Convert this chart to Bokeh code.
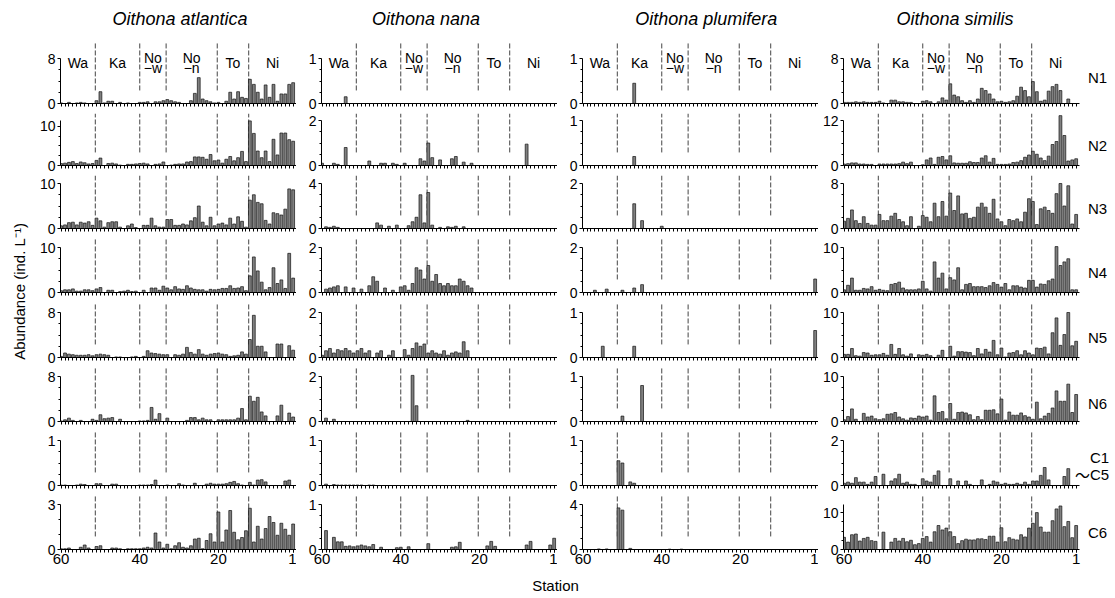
import math
from bokeh.plotting import figure
from bokeh.models import Range1d, FixedTicker
from bokeh.layouts import row, column
from bokeh.embed import file_html
from bokeh.resources import INLINE
from bokeh.core.properties import value

# ---------------- data ----------------
stations = list(range(60, 0, -1))          # 60 ... 1 (left to right)
species = ["Oithona atlantica", "Oithona nana", "Oithona plumifera", "Oithona similis"]
stages = ["N1", "N2", "N3", "N4", "N5", "N6", "C1~C5", "C6"]
region_names = ["Wa", "Ka", "No\n\u2212w", "No\n\u2212n", "To", "Ni"]
boundaries = [51.3, 40.0, 33.3, 20.3, 12.3]

# axis maxima and labelled tick per panel (rows N1..C6)
atl_top = [8, 11.5, 10, 10, 8, 8, 1, 3]
atl_lab = [8, 10, 10, 10, 8, 8, 1, 3]
nana_top = [1, 2, 4, 2, 2, 2, 1, 1]
plu_top = [1, 1, 2, 2, 1, 1, 1, 4]
sim_top = [8, 12, 8, 10, 10, 10, 2, 12.2]
sim_lab = [8, 12, 8, 10, 10, 10, 2, 10]

# Oithona atlantica (station 60 -> 1)
atl_N1 = [0.1,0,0.2,0,0.1,0.2,0.1,0,0,0.5, 2.1,0.1,0.4,0.4,0,0.2,0,0.1,0,0,
          0.2,0.2,0.3,0,0.3,0.3,0.5,0.7,0.5,0.3, 0.2,0,0,0.5,1.8,4.6,0.8,0.5,0.3,0.1,
          0.2,0,0.4,2.0,0.8,2.1,1.1,0.9,4.3,3.4, 2.0,0.8,3.3,1.1,3.4,0.4,1.7,1.7,3.4,3.7]
atl_N2 = [0.5,0.6,0.8,1.0,0.5,0.9,0.7,0.4,0.5,1.3, 1.9,0,0.5,0.6,0.4,0.1,0,0.3,0.3,0.4,
          0.5,0.6,0.4,0,0.3,0.4,0.9,0,0.1,0.3, 0.4,0.4,0.9,1.0,2.2,2.2,2.1,1.6,2.8,1.2,
          1.4,0.6,1.6,2.3,1.2,2.0,3.6,1.0,11.4,8.2, 3.7,2.0,3.7,1.0,6.7,2.7,8.3,8.3,6.6,6.2]
atl_N3 = [0.6,0.8,1.3,1.4,0.8,1.4,1.2,1.5,0.7,2.3, 1.7,0.3,1.3,1.5,1.5,0.3,0,0.6,1.0,0.2,
          0,0.7,0.7,2.3,0.6,0.3,0.3,2.0,2.0,0.7, 0.7,1.0,0.8,1.7,2.4,5.0,1.4,0.6,2.5,0.6,
          1.0,1.2,0.8,2.3,1.0,2.6,1.6,0.3,6.3,7.5, 5.8,5.5,1.8,1.0,3.5,3.3,3.0,4.3,8.8,8.6]
atl_N4 = [0.4,0.6,0.6,0.8,0.3,0.3,0.6,0.6,0.4,0.8, 1.1,0,0.5,0.5,0,0.2,0.3,0.5,0.2,0.3,
          0,0.5,0,1.0,1.0,0.5,1.4,1.0,0.6,1.3, 0.8,0.7,1.5,1.0,0.7,0.6,0.6,0.3,0.7,0.6,
          0.7,0.9,0.9,1.5,0.9,1.0,1.3,0.4,3.7,7.9, 4.8,2.3,0.6,1.1,5.5,2.0,2.8,0.9,8.7,3.2]
atl_N5 = [0.2,0.8,0.6,0.5,0.4,0.4,0.4,0.5,0.3,0.5, 0.6,0.5,0.4,0,0.1,0.1,0,0,0.1,0.2,
          0,0.2,1.2,0.8,0.7,0.6,0.5,0.5,0,0.5, 0.4,0.6,1.8,0.9,0.6,1.4,0.6,0.4,0.6,0.7,
          0.8,0.6,0.5,0.2,0.3,0.4,1.0,0.6,3.2,7.5, 2.0,2.0,1.0,0,0,2.4,2.4,0,2.1,1.3]
atl_N6 = [0.1,0.3,0.6,0.2,0,0.2,0,0,0.4,0.2, 1.2,0.5,0.6,0.7,0,0.4,0,0,0,0,
          0.1,0.1,0.2,2.5,0.4,1.4,0,0.6,0,0, 0,0,0.2,0.7,0.7,0.3,0.6,0.3,0.3,0,
          0.3,0.3,0.3,0.3,0.3,0.6,2.3,0.3,4.5,3.6, 4.3,1.7,1.0,0,0,1.0,2.9,0,1.5,0.8]
atl_C15 = [0.01,0.01,0,0,0.01,0.03,0.02,0,0,0.04, 0.04,0,0,0.03,0.03,0,0,0,0,0,
           0.01,0.01,0.01,0.02,0.12,0,0,0.01,0,0, 0.04,0.01,0,0,0.05,0,0,0.03,0.05,0.03,
           0.03,0.03,0.04,0.07,0.09,0.04,0.01,0,0.07,0.01, 0.12,0.13,0.08,0,0,0,0,0.1,0.12,0]
atl_C6 = [0.05,0.05,0.1,0,0,0.15,0.3,0.1,0,0.2, 0.25,0,0,0.1,0.1,0.05,0,0.05,0.05,0.05,
          0.05,0.1,0.15,0.1,1.1,0.5,0.1,0.35,0.05,0.25, 0.45,0.15,0.1,0.25,0.7,0.75,0.05,0.6,1.05,0.5,
          2.5,0.5,1.3,2.6,1.15,0.65,0.8,1.25,2.75,0.5, 1.55,0.7,1.4,2.2,1.8,0.95,1.75,1.35,0.95,1.7]

# Oithona nana
nana_N1 = [0,0,0,0,0,0,0.15,0,0,0, 0,0,0,0,0,0,0,0,0,0,
           0,0,0,0,0,0,0,0,0,0, 0,0,0,0,0,0,0,0,0,0,
           0,0,0,0,0,0,0,0,0,0, 0,0,0,0,0,0,0,0,0,0]
nana_N2 = [0.1,0,0,0.1,0.05,0,0.8,0,0,0, 0,0,0.2,0,0,0.1,0.1,0,0.1,0.05,
           0,0.1,0,0,0,0.3,0.2,1.0,0.35,0, 0.25,0,0,0.3,0.4,0,0.15,0,0.1,0,
           0,0,0,0,0,0,0,0,0,0, 0,0,0.95,0,0,0,0,0,0,0]
nana_N3 = [0,0.15,0.1,0.2,0.1,0,0,0,0,0, 0,0,0,0,0.5,0.3,0,0.2,0,0.3,
           0,0,0.25,0.6,1.0,3.0,0.5,3.2,0.3,0, 0.1,0,0.15,0.1,0.2,0,0.15,0,0,0,
           0,0,0,0,0,0,0,0,0,0, 0,0,0,0,0,0,0,0,0,0]
nana_N4 = [0,0.15,0.2,0.25,0.3,0,0.25,0,0.2,0, 0.15,0,0.3,0.7,0.5,0,0.2,0,0.1,0,
           0.25,0.3,0.1,0.4,1.1,1.0,0.6,1.2,0.5,0.8, 0.4,0.3,0.4,0.3,0.3,0.6,0.5,0.3,0.2,0,
           0,0,0,0,0,0,0,0,0,0, 0,0,0,0,0,0,0,0,0,0]
nana_N5 = [0.1,0.3,0.4,0.2,0.35,0.3,0.4,0.3,0.2,0.3, 0.4,0.2,0.3,0,0.2,0.3,0,0.1,0.3,0,
           0,0.35,0.1,0.4,0.65,0.5,0.6,0.2,0.3,0.2, 0.15,0.3,0.1,0.2,0.25,0.2,0.7,0.3,0,0,
           0,0,0,0,0,0,0,0,0,0, 0,0,0,0,0,0,0,0,0,0]
nana_N6 = [0,0.15,0,0.1,0,0,0,0,0,0, 0,0,0,0,0,0,0,0,0,0,
           0,0,0,2.05,0.7,0,0,0,0,0, 0,0,0,0,0,0,0,0.05,0,0,
           0,0,0,0,0,0,0,0,0,0, 0,0,0,0,0,0,0,0,0,0]
nana_C15 = [0,0.03,0,0.02,0.01,0.01,0.01,0.01,0.01,0.01, 0.01,0,0.01,0.01,0,0,0,0,0,0,
            0,0,0,0,0,0,0,0,0,0, 0,0,0,0,0,0,0,0,0,0,
            0,0,0,0,0,0,0,0,0,0, 0,0,0,0,0,0,0,0,0,0]
nana_C6 = [0,0.42,0,0.27,0.17,0.17,0.07,0.08,0.06,0.08, 0.1,0.08,0.06,0.11,0,0.05,0,0,0,0.04,
           0.05,0,0.06,0,0,0,0,0.13,0,0, 0,0,0,0.05,0.06,0.16,0,0,0,0,
           0,0,0.08,0.18,0.07,0,0,0,0,0, 0,0,0.1,0.18,0,0,0,0,0.1,0.25]

# Oithona plumifera
plu_N1 = [0,0,0,0,0,0,0,0,0,0, 0,0,0,0.45,0,0,0,0,0,0,
          0,0,0,0,0,0,0,0,0,0, 0,0,0,0,0,0,0,0,0,0,
          0,0,0,0,0,0,0,0,0,0, 0,0,0,0,0,0,0,0,0,0]
plu_N2 = [0,0,0,0,0,0,0,0,0,0, 0,0,0,0.2,0,0,0,0,0,0,
          0,0,0,0,0,0,0,0,0,0, 0,0,0,0,0,0,0,0,0,0,
          0,0,0,0,0,0,0,0,0,0, 0,0,0,0,0,0,0,0,0,0]
plu_N3 = [0,0,0,0,0,0,0,0,0,0, 0,0,0,1.1,0,0.35,0,0,0,0,
          0.1,0,0,0,0,0,0,0,0,0, 0,0,0,0,0,0,0,0,0,0,
          0,0,0,0,0,0,0,0,0,0, 0,0,0,0,0,0,0,0,0,0]
plu_N4 = [0,0,0,0.1,0,0,0.15,0,0,0, 0.1,0,0,0.2,0,0.35,0,0,0,0,
          0,0,0,0,0,0,0,0,0,0, 0,0,0,0,0,0,0,0,0,0,
          0,0,0,0,0,0,0,0,0,0, 0,0,0,0,0,0,0,0,0,0.6]
plu_N5 = [0,0,0,0,0,0.25,0,0,0,0, 0,0,0,0.25,0,0,0,0,0,0,
          0,0,0,0,0,0,0,0,0,0, 0,0,0,0,0,0,0,0,0,0,
          0,0,0,0,0,0,0,0,0,0, 0,0,0,0,0,0,0,0,0,0.6]
plu_N6 = [0,0,0,0,0,0,0,0,0,0, 0.12,0,0,0,0,0.8,0,0,0,0,
          0,0,0,0,0,0,0,0,0,0, 0,0,0,0,0,0,0,0,0,0,
          0,0,0,0,0,0,0,0,0,0, 0,0,0,0,0,0,0,0,0,0]
plu_C15 = [0,0,0,0,0,0,0,0,0,0.55, 0.5,0,0.08,0.05,0,0,0,0,0,0,
           0,0,0,0,0,0,0,0,0,0, 0,0,0,0,0,0,0,0,0,0,
           0,0,0,0,0,0,0,0,0,0, 0,0,0,0,0,0,0,0,0,0]
plu_C6 = [0,0,0,0,0.05,0,0.05,0,0,3.7, 3.5,0,0.1,0,0,0,0,0,0,0,
          0,0,0.03,0,0,0.03,0,0,0,0, 0,0,0,0,0,0,0,0,0,0,
          0,0,0,0,0,0,0,0,0,0, 0,0,0,0,0,0,0,0,0,0]

# Oithona similis
sim_N1 = [0.2,0.2,0.2,0.3,0.2,0.3,0.2,0.2,0.2,0.4, 0.1,0,0.6,0.6,0.3,0.3,0.2,0.2,0,0,
          0.4,0.5,0.3,0,0.3,1.0,0.6,3.5,1.5,1.2, 0.5,0.2,0.5,0.2,0.8,2.7,2.3,1.7,0.8,0.3,
          0.4,0.2,0.3,0.5,1.3,2.9,2.3,1.2,3.9,2.1, 0.4,0.6,2.2,3.0,3.4,2.3,0,0.8,0,0]
sim_N2 = [0.4,0.5,0.7,0.7,0.4,0.4,0.3,0.3,0,0.4, 0.4,0.4,0.4,0.4,0.5,0.9,0.5,0.9,0,0,
          0.2,1.5,2.0,0.3,2.2,2.4,1.5,2.6,0.7,0.6, 0.6,0.6,1.0,0.8,0.8,2.0,2.6,0.9,1.9,0.3,
          0.3,0.3,0.4,0.8,0.9,1.3,2.2,2.8,3.8,3.0, 2.0,1.3,2.5,5.6,6.4,13.3,8.0,1.2,1.5,1.8]
sim_N3 = [1.3,1.8,3.3,1.4,0.9,2.1,0.9,0.6,0.6,2.5, 1.4,1.4,2.2,2.7,1.6,1.2,0.5,2.1,0,0.4,
          2.3,2.0,1.2,4.5,2.1,4.8,2.2,6.3,3.2,5.8, 2.6,2.7,1.8,2.0,3.8,4.5,3.8,2.7,5.2,1.7,
          1.2,0.5,1.6,1.4,1.7,1.2,2.9,5.3,4.8,0.7, 3.5,3.8,3.2,2.7,6.2,8.0,4.0,7.6,0.8,2.5]
sim_N4 = [0.6,1.6,3.2,0.5,0.5,0.9,0.8,1.3,0.5,0.7, 0.5,0.4,1.8,2.0,2.3,1.0,0.6,0.6,0.6,0.8,
          2.5,0.8,0.3,6.8,3.2,4.3,0.8,3.3,2.8,5.5, 0.6,1.8,2.0,1.3,1.3,1.3,1.1,1.5,2.2,1.8,
          1.2,2.0,0.6,1.5,1.5,1.2,1.0,2.7,2.7,1.2, 1.9,1.8,2.6,3.0,10.2,6.0,6.8,7.5,0.6,0.6]
sim_N5 = [0.7,0.7,2.0,0.4,0.3,1.1,1.0,0.5,0.6,0.6, 0.9,0.5,2.9,0.7,2.0,0.6,0.3,0.8,0,0.6,
          0.5,0.7,0.4,0,0.5,1.6,0,2.5,0.3,1.3, 1.3,1.2,1.1,0.4,2.0,0.8,1.8,1.2,3.8,0.6,
          2.1,0.1,1.0,1.1,1.5,0.6,1.5,1.0,0.6,2.1, 2.0,2.3,0.8,5.5,8.8,2.7,5.1,10.0,2.6,3.6]
sim_N6 = [0.4,1.1,2.8,0.5,0,1.8,1.0,1.2,0.6,0.4, 0.6,1.6,1.7,2.0,1.0,0.6,0.3,0.8,0.7,1.2,
          1.0,1.2,0.3,5.7,2.0,2.2,0.6,4.0,0.5,2.0, 2.1,1.9,1.5,0.4,1.1,0.4,2.5,2.5,2.6,1.7,
          5.0,0.3,2.1,1.4,1.4,1.9,1.3,1.0,0.5,4.3, 0.6,1.2,1.8,3.0,6.8,4.5,4.5,8.3,2.0,6.0]
sim_C15 = [0.1,0.15,0.1,0.35,0.15,0.15,0.05,0.15,0.4,0, 0.5,0,0.2,0.3,0.5,0.1,0.15,0.05,0.05,0,
           0.3,0.2,0.15,0.45,0.65,0,0,0.3,0,0.2, 0,0.2,0.05,0,0,0.25,0,0.05,0.2,0.15,
           0.05,0.1,0.05,0.05,0.1,0.05,0.15,0.05,0.2,0.2, 0.45,0.8,0.25,0,0,0,0.4,0.75,0,0]
sim_C6 = [3.3,2.0,4.0,4.2,2.3,3.0,3.3,2.4,2.2,0, 4.7,0,2.0,3.0,2.3,3.0,2.1,2.5,1.3,1.6,
          3.0,3.5,2.0,4.8,6.5,5.3,5.8,4.8,3.5,1.6, 2.4,2.8,2.6,2.6,2.9,2.9,2.7,3.6,3.6,2.0,
          5.9,2.1,3.2,2.8,2.6,4.0,3.4,5.8,7.1,10.0, 6.1,4.7,4.7,7.8,11.0,11.8,6.2,7.6,3.2,6.5]

panel_data = [
    [atl_N1, atl_N2, atl_N3, atl_N4, atl_N5, atl_N6, atl_C15, atl_C6],
    [nana_N1, nana_N2, nana_N3, nana_N4, nana_N5, nana_N6, nana_C15, nana_C6],
    [plu_N1, plu_N2, plu_N3, plu_N4, plu_N5, plu_N6, plu_C15, plu_C6],
    [sim_N1, sim_N2, sim_N3, sim_N4, sim_N5, sim_N6, sim_C15, sim_C6],
]
panel_top = [atl_top, nana_top, plu_top, sim_top]
panel_lab = [atl_lab, nana_top, plu_top, sim_lab]

# ---------------- layout constants (page pixels) ----------------
FONT = "Liberation Sans"
FRAME_W = 236
PX_PER_ST = FRAME_W / 60.0
COL_W = 261
LEFT_B = 25
RIGHT_EXTRA = 34                 # room for stage labels beside the last column
LEFT_W = 35
AX_PX = 45.0                     # pixel height of each y axis
baselines = [103, 165, 228, 292, 357, 421, 485, 549]
BOT = 10
BOT_LAST = 24
X0, X1 = 60.15, 0.15
title_x = [29.75, 33.6, 28.7, 31.8]
stage_px_above = [26, 20, 20, 20, 20, 18, 0, 17]
BAR_FILL = "#808080"
COL4_FRAME_RIGHT = 843 + FRAME_W   # page x of station-range end in last column


def minor_for(lab, top):
    step = {8: 2, 10: 2.5, 12: 3, 1: 0.25, 2: 0.5, 3: 1, 4: 1}.get(lab, lab / 4)
    out, v = [], step
    while v < top - 1e-9:
        out.append(v)
        v += step
    return out


def px_to_station(px):
    return X1 - (px - COL4_FRAME_RIGHT) / PX_PER_ST


def make_panel(c, r):
    top = panel_top[c][r]
    lab = panel_lab[c][r]
    last = (r == 7)
    fig_top = 0 if r == 0 else baselines[r - 1] + BOT
    bb = BOT_LAST if last else BOT
    frame_h = baselines[r] - fig_top
    h = frame_h + bb
    ymax = top * frame_h / AX_PX
    extra = RIGHT_EXTRA if c == 3 else 0
    xend = X1 - extra / PX_PER_ST
    p = figure(width=COL_W + extra, height=h, x_range=Range1d(X0, xend), y_range=Range1d(0, ymax),
               output_backend="svg", toolbar_location=None, tools="",
               min_border_left=LEFT_B, min_border_right=0, min_border_top=0,
               min_border_bottom=bb)
    p.outline_line_color = None
    p.grid.visible = False
    p.background_fill_color = "white"
    p.border_fill_color = "white"

    xa = p.xaxis[0]
    xa.ticker = FixedTicker(ticks=[60, 40, 20, 1] if last else [], minor_ticks=stations)
    xa.bounds = (X0, X1)
    xa.axis_line_color = "black"
    xa.axis_line_width = 1
    xa.major_tick_in = 0
    xa.major_tick_out = 3
    xa.minor_tick_in = 0
    xa.minor_tick_out = 3
    xa.major_tick_line_color = "black"
    xa.minor_tick_line_color = "black"
    xa.major_label_standoff = 1
    xa.major_label_text_font = FONT
    xa.major_label_text_font_size = "15px"
    xa.major_label_text_color = "black"

    ya = p.yaxis[0]
    ya.ticker = FixedTicker(ticks=[0, lab], minor_ticks=minor_for(lab, top))
    ya.bounds = (0, top)
    ya.axis_line_color = "black"
    ya.major_tick_in = 0
    ya.major_tick_out = 3
    ya.minor_tick_in = 0
    ya.minor_tick_out = 2
    ya.major_tick_line_color = "black"
    ya.minor_tick_line_color = "black"
    ya.major_label_standoff = 2
    ya.major_label_text_font = FONT
    ya.major_label_text_font_size = "14px"
    ya.major_label_text_color = "black"

    # region boundaries (dashed)
    y0 = 0.29 * top
    y1 = (61 / AX_PX) * top if r == 0 else ymax
    p.segment(x0=boundaries, y0=[y0] * len(boundaries), x1=boundaries, y1=[y1] * len(boundaries),
              line_color="#444444", line_width=1, line_dash="5 2")

    # bars
    p.vbar(x=stations, top=panel_data[c][r], width=0.72, bottom=0,
           fill_color=BAR_FILL, line_color="#111111", line_width=0.7)

    kw = dict(text_font=value(FONT), text_font_size=value("14px"), text_align="center",
              text_baseline="middle", text_color="black")
    if r == 0:
        edges = [X0] + boundaries + [X1]
        centers = [(edges[i] + edges[i + 1]) / 2 for i in range(len(region_names))]
        one_x, one_t, two_x, two_a, two_b = [], [], [], [], []
        for cx, nm in zip(centers, region_names):
            if "\n" in nm:
                a, b = nm.split("\n")
                two_x.append(cx); two_a.append(a); two_b.append(b)
            else:
                one_x.append(cx); one_t.append(nm)
        p.text(x=one_x, y=[top * 41 / AX_PX] * len(one_x), text=one_t, **kw)
        p.text(x=two_x, y=[top * 45.5 / AX_PX] * len(two_x), text=two_a, **kw)
        p.text(x=two_x, y=[top * 36 / AX_PX] * len(two_x), text=two_b, **kw)
        p.text(x=[title_x[c]], y=[top * 85 / AX_PX], text=[species[c]],
               text_font=value(FONT), text_font_size=value("18px"), text_font_style="italic",
               text_align="center", text_baseline="middle", text_color="black")

    if c == 3:
        skw = dict(text_font=value(FONT), text_font_size=value("15px"),
                   text_baseline="middle", text_color="black", text_align="center")
        if stages[r] == "C1~C5":
            p.text(x=[px_to_station(1099)], y=[top * 28 / AX_PX], text=["C1"], **skw)
            p.text(x=[px_to_station(1099)], y=[top * 11 / AX_PX], text=["C5"], **skw)
            p.text(x=[px_to_station(1082)], y=[top * 11 / AX_PX], text=["\u301c"],
                   text_font=value("Noto Sans CJK JP"), text_font_size=value("15px"),
                   text_baseline="middle", text_color="black", text_align="center")
        else:
            p.text(x=[px_to_station(1097)], y=[top * stage_px_above[r] / AX_PX],
                   text=[stages[r]], **skw)
    return p


TOTAL_H = baselines[-1] + BOT_LAST

# left axis title
left = figure(width=LEFT_W, height=TOTAL_H, x_range=Range1d(0, LEFT_W), y_range=Range1d(TOTAL_H, 0),
              output_backend="svg", toolbar_location=None, tools="",
              x_axis_type=None, y_axis_type=None, min_border=0)
left.outline_line_color = None
left.grid.visible = False
left.text(x=[19], y=[291], text=["Abundance (ind. L\u207b\u00b9)"], angle=math.pi / 2,
          text_font=value(FONT), text_font_size=value("15px"), text_align="center",
          text_baseline="middle", text_color="black")

cols = []
for c in range(4):
    cols.append(column(*[make_panel(c, r) for r in range(8)], spacing=0))

main = row(left, *cols, spacing=0)
TOTAL_W = LEFT_W + 4 * COL_W + RIGHT_EXTRA

BOT_H = 24
bottom = figure(width=TOTAL_W, height=BOT_H, x_range=Range1d(0, TOTAL_W), y_range=Range1d(BOT_H, 0),
                output_backend="svg", toolbar_location=None, tools="",
                x_axis_type=None, y_axis_type=None, min_border=0)
bottom.outline_line_color = None
bottom.grid.visible = False
bottom.text(x=[555], y=[12], text=["Station"], text_font=value(FONT), text_font_size=value("15px"),
            text_align="center", text_baseline="middle", text_color="black")

page = column(main, bottom, spacing=0)
open("out.html", "w").write(file_html(page, INLINE))
